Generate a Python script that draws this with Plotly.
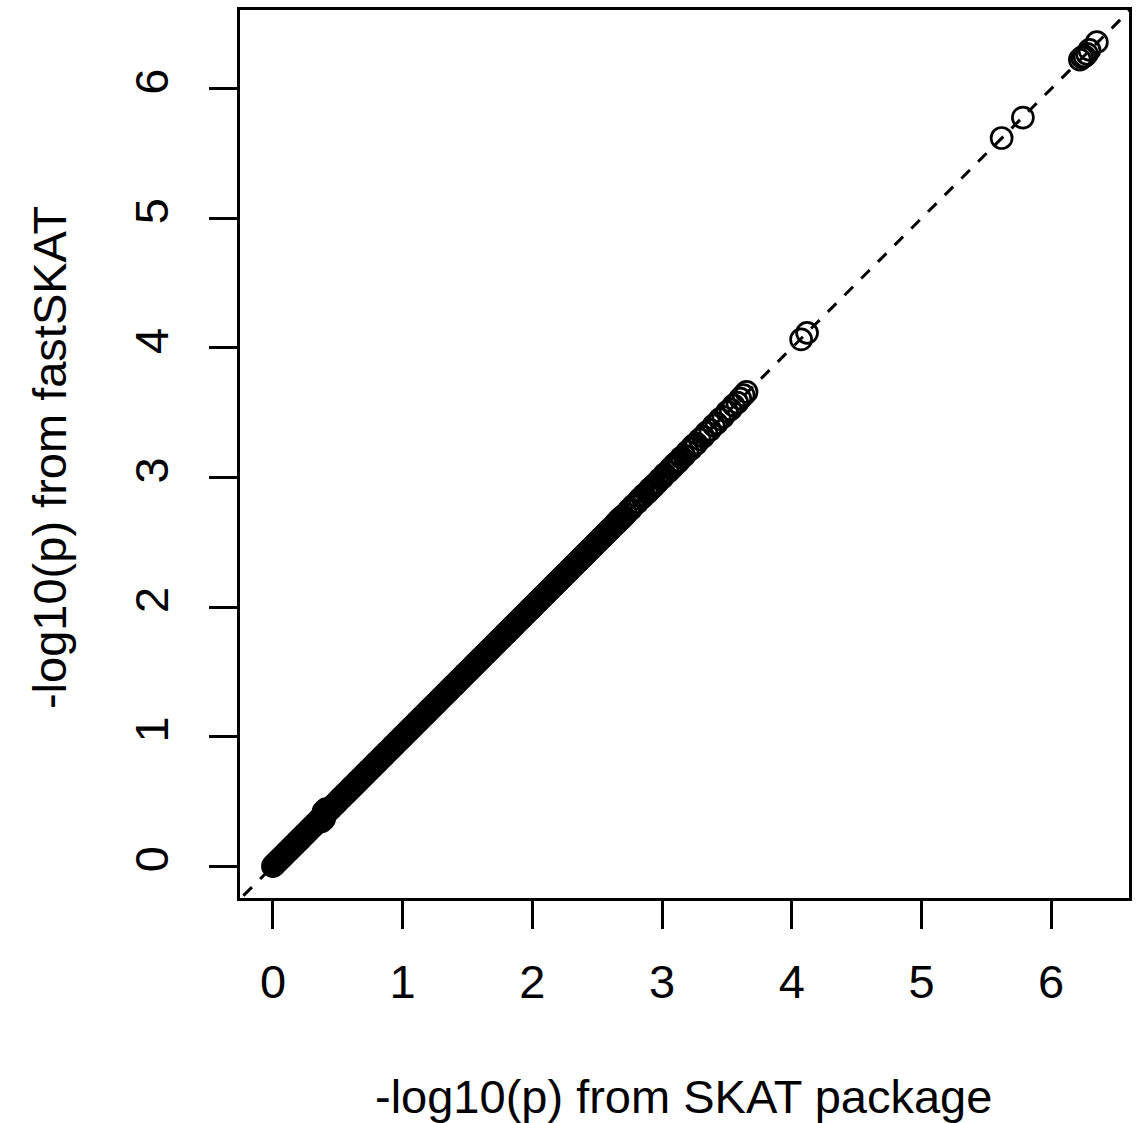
import plotly.graph_objects as go

# -log10(p) values: dense band of genes (SKAT package vs fastSKAT)
skat_band = [
    0.000, 0.009, 0.019, 0.030, 0.041, 0.050, 0.059, 0.070, 0.081, 0.091,
    0.104, 0.113, 0.124, 0.133, 0.144, 0.155, 0.164, 0.174, 0.185, 0.195,
    0.200, 0.209, 0.219, 0.230, 0.241, 0.250, 0.259, 0.270, 0.281, 0.291,
    0.304, 0.313, 0.324, 0.333, 0.344, 0.355, 0.364, 0.374, 0.385, 0.395,
    0.400, 0.409, 0.419, 0.430, 0.441, 0.450, 0.459, 0.470, 0.481, 0.491,
    0.504, 0.513, 0.524, 0.533, 0.544, 0.555, 0.564, 0.574, 0.585, 0.595,
    0.600, 0.609, 0.619, 0.630, 0.641, 0.650, 0.659, 0.670, 0.681, 0.691,
    0.704, 0.713, 0.724, 0.733, 0.744, 0.755, 0.764, 0.774, 0.785, 0.795,
    0.800, 0.809, 0.819, 0.830, 0.841, 0.850, 0.859, 0.870, 0.881, 0.891,
    0.904, 0.913, 0.924, 0.933, 0.944, 0.955, 0.964, 0.974, 0.985, 0.995,
    1.000, 1.009, 1.019, 1.030, 1.041, 1.050, 1.059, 1.070, 1.081, 1.091,
    1.104, 1.113, 1.124, 1.133, 1.144, 1.155, 1.164, 1.174, 1.185, 1.195,
    1.200, 1.209, 1.219, 1.230, 1.241, 1.250, 1.259, 1.270, 1.281, 1.291,
    1.304, 1.313, 1.324, 1.333, 1.344, 1.355, 1.364, 1.374, 1.385, 1.395,
    1.400, 1.409, 1.419, 1.430, 1.441, 1.450, 1.459, 1.470, 1.481, 1.491,
    1.504, 1.513, 1.524, 1.533, 1.544, 1.555, 1.564, 1.574, 1.585, 1.595,
    1.600, 1.609, 1.619, 1.630, 1.641, 1.650, 1.659, 1.670, 1.681, 1.691,
    1.704, 1.713, 1.724, 1.733, 1.744, 1.755, 1.764, 1.774, 1.785, 1.795,
    1.800, 1.809, 1.819, 1.830, 1.841, 1.850, 1.859, 1.870, 1.881, 1.891,
    1.904, 1.913, 1.924, 1.933, 1.944, 1.955, 1.964, 1.974, 1.985, 1.995,
    2.000, 2.009, 2.019, 2.030, 2.041, 2.050, 2.059, 2.070, 2.081, 2.091,
    2.104, 2.113, 2.124, 2.133, 2.144, 2.155, 2.164, 2.174, 2.185, 2.195,
    2.200, 2.209, 2.219, 2.230, 2.241, 2.250, 2.259, 2.270, 2.281, 2.291,
    2.304, 2.313, 2.324, 2.333, 2.344, 2.355, 2.364, 2.374, 2.385, 2.395,
    2.400, 2.409, 2.419, 2.430, 2.441, 2.450, 2.459, 2.470, 2.481, 2.491,
    2.504, 2.513, 2.524, 2.533, 2.544, 2.555, 2.564, 2.574, 2.585, 2.595,
    2.606, 2.617, 2.628,
]
fast_band = [
    0.000, 0.009, 0.019, 0.030, 0.041, 0.050, 0.059, 0.070, 0.081, 0.091,
    0.104, 0.113, 0.124, 0.133, 0.144, 0.155, 0.164, 0.174, 0.185, 0.195,
    0.200, 0.209, 0.219, 0.230, 0.241, 0.250, 0.259, 0.270, 0.281, 0.291,
    0.304, 0.313, 0.324, 0.333, 0.344, 0.355, 0.364, 0.374, 0.385, 0.395,
    0.400, 0.409, 0.419, 0.430, 0.441, 0.450, 0.459, 0.470, 0.481, 0.491,
    0.504, 0.513, 0.524, 0.533, 0.544, 0.555, 0.564, 0.574, 0.585, 0.595,
    0.600, 0.609, 0.619, 0.630, 0.641, 0.650, 0.659, 0.670, 0.681, 0.691,
    0.704, 0.713, 0.724, 0.733, 0.744, 0.755, 0.764, 0.774, 0.785, 0.795,
    0.800, 0.809, 0.819, 0.830, 0.841, 0.850, 0.859, 0.870, 0.881, 0.891,
    0.904, 0.913, 0.924, 0.933, 0.944, 0.955, 0.964, 0.974, 0.985, 0.995,
    1.000, 1.009, 1.019, 1.030, 1.041, 1.050, 1.059, 1.070, 1.081, 1.091,
    1.104, 1.113, 1.124, 1.133, 1.144, 1.155, 1.164, 1.174, 1.185, 1.195,
    1.200, 1.209, 1.219, 1.230, 1.241, 1.250, 1.259, 1.270, 1.281, 1.291,
    1.304, 1.313, 1.324, 1.333, 1.344, 1.355, 1.364, 1.374, 1.385, 1.395,
    1.400, 1.409, 1.419, 1.430, 1.441, 1.450, 1.459, 1.470, 1.481, 1.491,
    1.504, 1.513, 1.524, 1.533, 1.544, 1.555, 1.564, 1.574, 1.585, 1.595,
    1.600, 1.609, 1.619, 1.630, 1.641, 1.650, 1.659, 1.670, 1.681, 1.691,
    1.704, 1.713, 1.724, 1.733, 1.744, 1.755, 1.764, 1.774, 1.785, 1.795,
    1.800, 1.809, 1.819, 1.830, 1.841, 1.850, 1.859, 1.870, 1.881, 1.891,
    1.904, 1.913, 1.924, 1.933, 1.944, 1.955, 1.964, 1.974, 1.985, 1.995,
    2.000, 2.009, 2.019, 2.030, 2.041, 2.050, 2.059, 2.070, 2.081, 2.091,
    2.104, 2.113, 2.124, 2.133, 2.144, 2.155, 2.164, 2.174, 2.185, 2.195,
    2.200, 2.209, 2.219, 2.230, 2.241, 2.250, 2.259, 2.270, 2.281, 2.291,
    2.304, 2.313, 2.324, 2.333, 2.344, 2.355, 2.364, 2.374, 2.385, 2.395,
    2.400, 2.409, 2.419, 2.430, 2.441, 2.450, 2.459, 2.470, 2.481, 2.491,
    2.504, 2.513, 2.524, 2.533, 2.544, 2.555, 2.564, 2.574, 2.585, 2.595,
    2.606, 2.617, 2.628,
]

# a few genes slightly off the diagonal near 0.4
skat_off = [0.375, 0.395, 0.390, 0.410]
fast_off = [0.345, 0.365, 0.420, 0.440]

# thinning region
skat_mid = [
    2.640, 2.652, 2.665, 2.676, 2.690, 2.703, 2.721, 2.745, 2.758, 2.776,
    2.790, 2.812, 2.829, 2.848, 2.861, 2.884, 2.905, 2.921, 2.944, 2.963,
    2.985, 3.004, 3.021, 3.046, 3.068, 3.081, 3.105, 3.132, 3.150, 3.171,
    3.196, 3.224, 3.248, 3.265, 3.291, 3.318, 3.342, 3.371, 3.398, 3.420,
    3.446, 3.471, 3.502, 3.528, 3.552, 3.580, 3.603, 3.628, 3.651,
]
fast_mid = [
    2.642, 2.650, 2.668, 2.680, 2.692, 2.700, 2.718, 2.748, 2.755, 2.779,
    2.793, 2.810, 2.832, 2.846, 2.865, 2.881, 2.908, 2.919, 2.947, 2.960,
    2.988, 3.001, 3.025, 3.043, 3.071, 3.078, 3.108, 3.129, 3.154, 3.168,
    3.199, 3.221, 3.252, 3.262, 3.294, 3.315, 3.346, 3.368, 3.402, 3.417,
    3.450, 3.468, 3.506, 3.525, 3.556, 3.577, 3.608, 3.635, 3.660,
]
skat_mid2 = [2.646, 2.659, 2.671, 2.684, 2.697, 2.895, 2.913, 2.932, 3.093, 3.118, 3.236]
fast_mid2 = [2.649, 2.656, 2.674, 2.681, 2.700, 2.892, 2.916, 2.929, 3.096, 3.115, 3.239]

# most significant genes
skat_hi = [4.072, 4.118, 5.618, 5.782, 6.221, 6.238, 6.257, 6.276, 6.295, 6.352]
fast_hi = [4.065, 4.116, 5.620, 5.778, 6.225, 6.242, 6.250, 6.270, 6.300, 6.360]

tick_vals = [0, 1, 2, 3, 4, 5, 6]
tick_text = ["0", "1", "2", "3", "4", "5", "6"]
x_title = "-log10(p) from SKAT package"
y_title = "-log10(p) from fastSKAT"

x_all = skat_band + skat_off + skat_mid + skat_mid2 + skat_hi
y_all = fast_band + fast_off + fast_mid + fast_mid2 + fast_hi

FONT = "Liberation Sans, Arial, sans-serif"
FS = 47

fig = go.Figure()
# identity reference line (abline(0,1))
fig.add_trace(go.Scatter(
    x=[-1, 8], y=[-1, 8], mode="lines",
    line=dict(color="black", width=3, dash="12px,11.6px"),
    hoverinfo="skip", showlegend=False,
))
fig.add_trace(go.Scatter(
    x=x_all, y=y_all, mode="markers",
    marker=dict(symbol="circle-open", size=21, color="black",
                line=dict(color="black", width=2.7)),
    showlegend=False,
))

axis_common = dict(
    showgrid=False, zeroline=False,
    showline=True, mirror=True, linecolor="black", linewidth=2.7,
    ticks="outside", ticklen=28, tickwidth=2.7, tickcolor="black",
    tickvals=tick_vals, ticktext=tick_text,
    tickfont=dict(family=FONT, size=FS, color="black"),
)

fig.update_xaxes(range=[-0.254, 6.600], ticklabelstandoff=13, **axis_common)
fig.update_yaxes(range=[-0.246, 6.608], tickangle=-90, ticklabelstandoff=22,
                 **axis_common)

fig.update_layout(
    width=1139, height=1123,
    margin=dict(l=240, r=8, t=7, b=225),
    paper_bgcolor="white", plot_bgcolor="white",
    font=dict(family=FONT, size=FS, color="black"),
    annotations=[
        dict(text=x_title, xref="paper", yref="paper", x=0.4994, y=-0.2233,
             xanchor="center", yanchor="middle", showarrow=False,
             font=dict(family=FONT, size=FS, color="black")),
        dict(text=y_title, xref="paper", yref="paper", x=-0.2143, y=0.496,
             xanchor="center", yanchor="middle", showarrow=False, textangle=-90,
             font=dict(family=FONT, size=FS, color="black")),
    ],
)

fig.write_html(
    "out.html",
    config={"displayModeBar": False},
    post_script="document.body.style.margin='0';document.body.style.overflow='hidden';",
)
